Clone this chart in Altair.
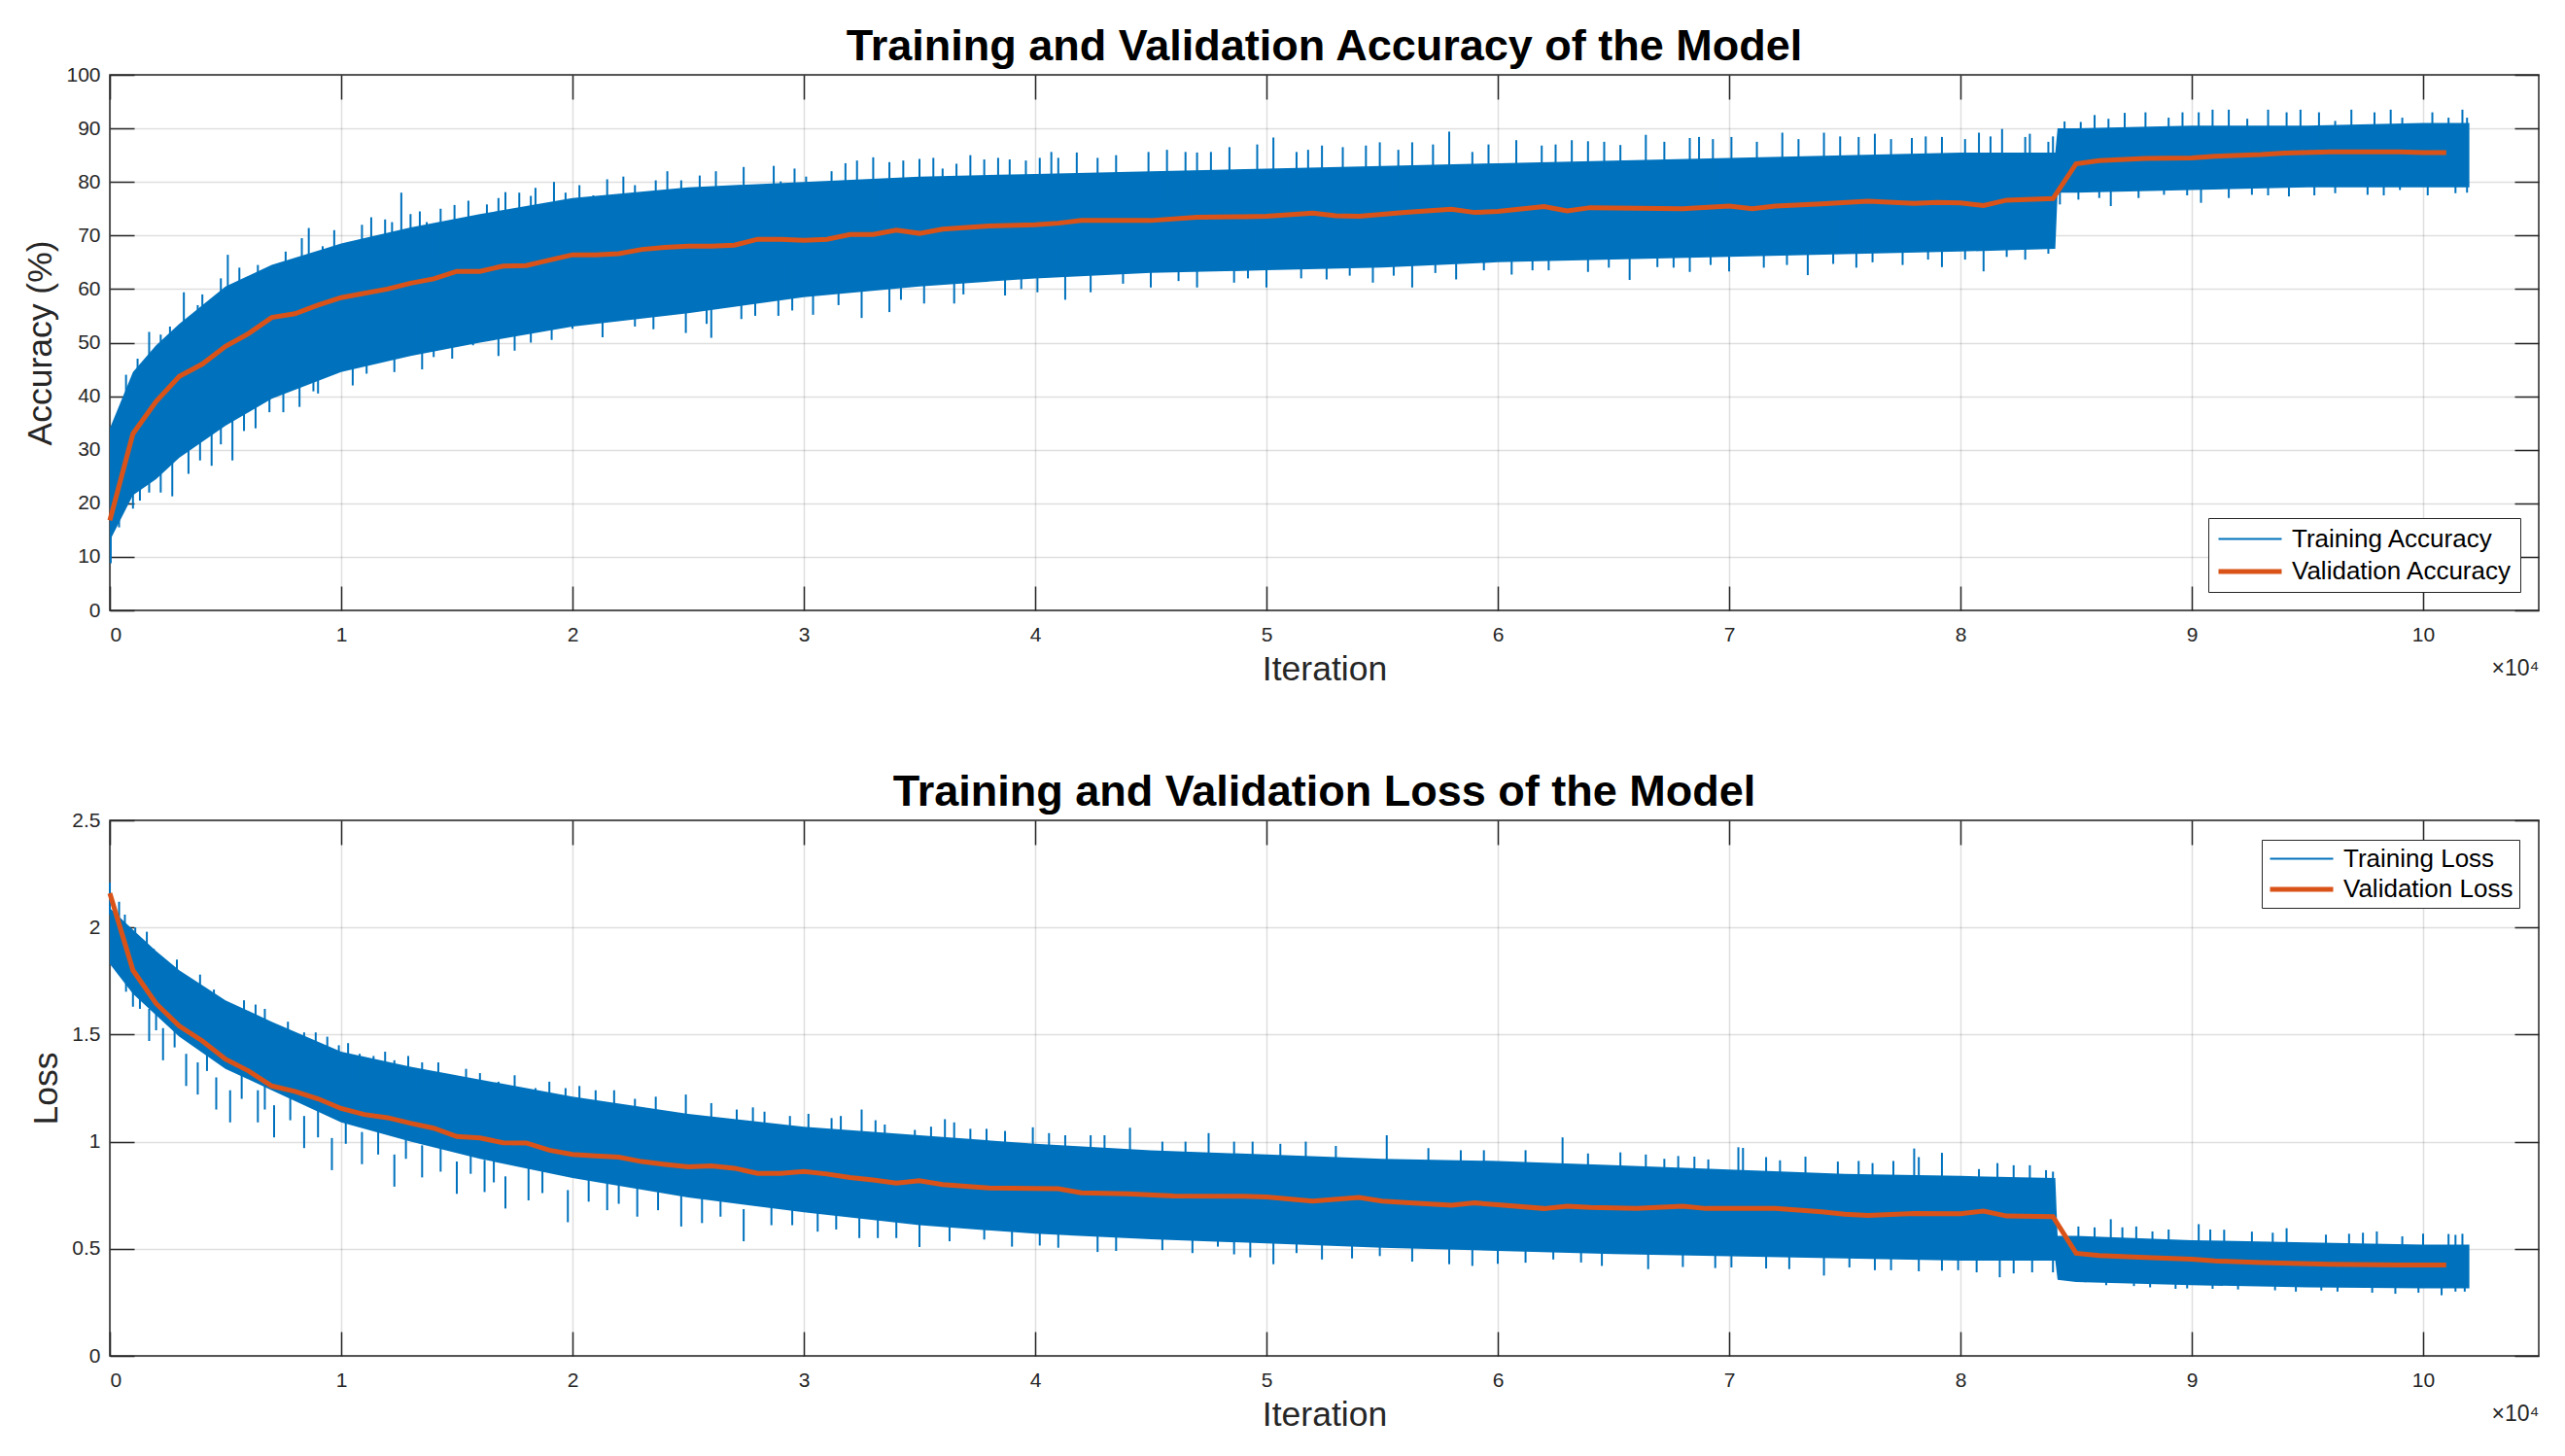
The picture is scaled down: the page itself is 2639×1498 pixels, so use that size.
import altair as alt
import pandas as pd

BLUE = "#0072BD"
ORANGE = "#D95319"
AX = "#262626"
FONT = "Liberation Sans"
W, H = 2499, 551

# ---------------- data ----------------
core_iter = [0, 1000, 2000, 3000, 5000, 7000, 10000, 13000, 16000, 20000, 25000, 30000,
             35000, 40000, 45000, 50000, 55000, 60000, 65000, 70000, 75000, 80000, 84100,
             84200, 85000, 90000, 95000, 100000, 102000]

acc_core_lo = [13, 21.5, 24.5, 28.5, 34.5, 39.5, 44.5, 47.5, 50, 53, 55.5, 58.5, 60.5, 62, 63,
               63.5, 64, 65, 65.5, 66, 66.5, 67, 67.5, 78, 78, 78.5, 79, 79, 79]
acc_core_hi = [34, 44.5, 49.5, 53.5, 60.5, 64.5, 68.5, 71.5, 74, 77, 79, 80, 81, 81.5, 82, 82.5,
               83, 83.5, 84, 84.5, 85, 85.5, 85.5, 90, 90, 90.5, 90.5, 91, 91]

loss_core_lo = [1.83, 1.69, 1.59, 1.49, 1.34, 1.24, 1.09, 1.0, 0.92, 0.83, 0.74, 0.67, 0.61,
                0.57, 0.545, 0.525, 0.505, 0.49, 0.475, 0.465, 0.455, 0.445, 0.445, 0.355,
                0.345, 0.33, 0.32, 0.315, 0.315]
loss_core_hi = [2.09, 1.99, 1.89, 1.80, 1.66, 1.56, 1.42, 1.35, 1.29, 1.21, 1.13, 1.07, 1.03,
                0.99, 0.96, 0.94, 0.92, 0.91, 0.89, 0.87, 0.85, 0.84, 0.83, 0.56, 0.56, 0.54,
                0.53, 0.52, 0.52]

# tall spikes above / below the dense band
acc_up_iter = [700, 1700, 2200, 3200, 3800, 4400, 5100, 6000, 6400, 7100, 8300, 8600, 9200, 10400,
               11300, 12200, 12600, 13000, 13700, 14900, 16300, 17100, 18200, 18400, 19700, 20300,
               20900, 22700, 23600, 24700, 25500, 27000, 27400, 28200, 29000, 30100, 31200, 32300,
               33000, 33700, 35000, 36000, 36600, 37800, 38900, 39600, 40700, 41000, 42700, 44900,
               46500, 47600, 49600, 50300, 51300, 52400, 54300, 54900, 56300, 57900, 58900, 60800,
               61900, 63200, 63900, 65300, 66400, 68300, 68700, 70100, 72300, 74100, 75600, 76300,
               77900, 79200, 80800, 81800, 82800, 83800, 84500, 85200, 86400, 87100, 89000, 90300,
               90900, 92400, 94100, 94700, 96200, 97900, 99100, 101100, 101700]
acc_up_tip = [44, 52, 51.5, 59.4, 57, 58, 66.4, 60, 64.5, 63, 69.5, 71.4, 68, 68.4, 73.4, 72.5, 78,
              74, 72.5, 75.7, 75.8, 78.1, 77.4, 78.9, 78, 79.4, 77.5, 79.4, 80.3, 80.3, 81.2, 79.2,
              82.8, 79.5, 80.1, 81, 82, 84, 84.6, 83.7, 84.3, 82.5, 83.4, 84.2, 84.2, 84, 85.6,
              84.5, 84.5, 85.6, 85.6, 85.6, 87, 88.3, 85.6, 86.8, 86.8, 87.4, 87.4, 89.4, 85.6,
              87.8, 86.8, 87.8, 87.6, 86.9, 88.8, 88.2, 88.4, 88.4, 89.2, 89.2, 88.4, 89, 88.2,
              88.4, 89.2, 89.9, 88.4, 87.5, 91.3, 91.2, 91.8, 92.9, 92, 93, 93.5, 91.8, 93, 93.5,
              91.4, 93, 92, 92, 93.5]
# shorter fringe spikes
acc_up2_iter = [1200, 2600, 4000, 4800, 5600, 7600, 9700, 10900, 11900, 13400, 14300, 15500,
                16800, 17700, 19200, 21500, 22200, 24100, 26200, 28700, 29600, 31800, 34300,
                35600, 37200, 38400, 40200, 41800, 43500, 45700, 47000, 48400, 51800, 53300,
                55700, 57200, 59600, 62500, 64600, 67200, 69300, 71200, 73000, 74800, 77000,
                78500, 80200, 81300, 83000, 84000, 85800, 88000, 89600, 91600, 93300, 95500,
                96900, 98600, 100400, 101900]
acc_up2_tip = [47, 53, 59, 62, 64, 67, 71, 72, 73, 74.5, 75, 76.5, 77, 78, 80, 80.5, 81, 82, 82,
               83, 82.5, 83.5, 84, 84.5, 85, 84.5, 84.5, 85.5, 85, 86, 85.5, 86.5, 86, 86.5, 86,
               87, 87, 87, 87.5, 87.5, 88, 87.5, 88, 88.5, 88, 88.5, 88, 88.5, 89, 88.5, 92.5,
               93, 93, 93.5, 93.5, 93, 93.5, 93.5, 93, 92]

acc_dn_iter = [40, 400, 700, 1300, 1700, 2700, 3900, 4400, 5300, 6300, 6900, 8200, 8800, 9900,
               11100, 11800, 13000, 14000, 15700, 18200, 20000, 22700, 24900, 26000, 27300, 28900,
               30400, 32500, 33700, 35200, 36500, 38700, 40100, 41300, 42400, 45000, 47000, 48600,
               50000, 52600, 54600, 56300, 58200, 60600, 62200, 63900, 65700, 66900, 68300, 70000,
               71500, 73400, 74500, 75500, 77500, 79200, 81000, 82000, 83800, 84300, 85100, 86500,
               88800, 90400, 92600, 94200, 96200, 97600, 99000, 101400]
acc_dn_tip = [8.8, 15.5, 21, 20.5, 22, 21.3, 28, 27, 28, 34, 37, 38, 40.9, 45, 44.2, 46.6, 48.4,
              47.3, 49.5, 50, 52.6, 53, 51.8, 50.9, 54.4, 55, 55.2, 54.6, 55.7, 57.3, 57.3, 58.8,
              59.4, 58, 59.4, 60.3, 60.3, 61.2, 60.3, 61.8, 61.2, 60.3, 61.8, 62.7, 63.5, 63.2,
              61.7, 64.1, 63.2, 63.3, 64, 62.6, 64.7, 64, 64.5, 64.1, 63.3, 66, 66.6, 75.8, 76.7,
              75.5, 77.6, 76.1, 77.6, 77.3, 77.9, 77.6, 78.5, 77.9]
acc_dn2_iter = [1000, 2200, 3400, 4800, 5800, 7500, 9000, 10500, 12300, 13500, 14800, 16800,
                17500, 19100, 21300, 23500, 25800, 27900, 29500, 31500, 34200, 36900, 39400,
                43800, 46200, 49200, 51500, 53600, 55500, 57300, 59400, 61500, 64800, 67600,
                69200, 72500, 76200, 78600, 80200, 82800, 86000, 87700, 89800, 91600, 93300,
                95300, 98300, 100200, 101900]
acc_dn2_tip = [19, 22, 25.5, 31, 33.5, 37, 40.5, 42, 44.5, 45, 47, 47.5, 48.5, 50.5, 51, 52.5,
               53.5, 55, 56, 57, 58, 59, 60, 61, 61.5, 62, 62, 62.5, 62.5, 63, 63.5, 63.5, 64,
               64, 64.5, 64.5, 65, 65.5, 65.5, 65.5, 77, 77, 77.5, 77, 77.5, 77.5, 77.5, 77.5, 78]

loss_up_iter = [0, 650, 1100, 1450, 1900, 2500, 3300, 4500, 5200, 6300, 7100, 8400, 9400, 9900,
                10800, 11400, 12300, 13500, 14900, 16000, 16800, 18400, 19700, 21000, 22700, 24900,
                27100, 28300, 29400, 30200, 31200, 32500, 33500, 34800, 36100, 36500, 37900, 39900,
                41300, 42400, 44100, 45500, 47500, 49400, 51700, 55200, 59400, 62800, 63900, 67200,
                67800, 69100, 70400, 70600, 71600, 72200, 74700, 76200, 78000, 78200, 79200, 80800,
                82300, 83700, 85100, 86500, 87600, 88300, 90300, 91400, 94100, 95800, 98000, 99100,
                101100, 101700]
loss_up_tip = [2.21, 2.06, 2.0, 1.94, 1.90, 1.78, 1.74, 1.71, 1.61, 1.64, 1.55, 1.51, 1.49, 1.45,
               1.41, 1.40, 1.38, 1.37, 1.31, 1.32, 1.28, 1.25, 1.25, 1.24, 1.20, 1.22, 1.15, 1.14,
               1.12, 1.13, 1.11, 1.15, 1.08, 1.055, 1.105, 1.09, 1.06, 1.067, 1.03, 1.03, 1.065,
               1.0, 1.04, 1.0, 1.0, 1.03, 0.96, 1.02, 0.945, 0.92, 0.933, 0.917, 0.974, 0.971,
               0.928, 0.913, 0.907, 0.90, 0.968, 0.928, 0.948, 0.872, 0.89, 0.867, 0.604, 0.638,
               0.604, 0.581, 0.615, 0.589, 0.596, 0.566, 0.581, 0.558, 0.569, 0.57]
loss_up2_iter = [400, 1600, 2900, 3900, 5800, 6700, 7700, 8900, 10300, 11900, 12900, 14200,
                 15400, 17500, 19000, 20300, 21800, 23600, 26000, 27800, 31600, 33100, 35500,
                 37200, 38700, 40600, 43000, 46500, 48600, 50600, 53000, 57000, 58400, 61200,
                 65300, 66400, 68500, 73300, 75600, 77100, 81600, 83000, 84000, 85800, 87000,
                 89000, 90800, 92600, 93500, 96800, 97400, 100000, 101400]
loss_up2_tip = [2.12, 1.98, 1.85, 1.78, 1.66, 1.62, 1.56, 1.51, 1.46, 1.42, 1.40, 1.37, 1.34,
                1.31, 1.28, 1.26, 1.24, 1.21, 1.18, 1.16, 1.12, 1.10, 1.07, 1.06, 1.05, 1.04,
                1.03, 1.00, 1.00, 0.99, 0.98, 0.97, 0.96, 0.96, 0.95, 0.94, 0.93, 0.93, 0.91,
                0.91, 0.90, 0.89, 0.86, 0.60, 0.60, 0.59, 0.59, 0.58, 0.575, 0.57, 0.575, 0.57,
                0.565]

loss_dn_iter = [400, 1000, 1700, 2300, 3300, 3800, 4600, 5200, 6400, 7100, 8400, 9600, 10900,
                12300, 13500, 15000, 16200, 17100, 18100, 19800, 21500, 22800, 24700, 25600, 27400,
                29500, 30600, 32400, 33200, 35000, 37800, 41000, 42700, 45500, 47900, 48600, 50300,
                51300, 54900, 57900, 58900, 62400, 63600, 66500, 70100, 71600, 74100, 75200, 77000,
                79200, 79900, 81700, 83100, 85400, 87500, 89300, 90900, 93600, 96300, 98800,
                100800, 101400]
loss_dn_tip = [1.80, 1.63, 1.47, 1.38, 1.26, 1.22, 1.15, 1.09, 1.09, 1.02, 0.97, 0.867, 0.895,
               0.79, 0.833, 0.757, 0.765, 0.688, 0.726, 0.624, 0.68, 0.65, 0.604, 0.62, 0.535,
               0.61, 0.58, 0.55, 0.55, 0.508, 0.543, 0.505, 0.485, 0.494, 0.51, 0.474, 0.428,
               0.48, 0.466, 0.428, 0.42, 0.45, 0.436, 0.405, 0.413, 0.408, 0.375, 0.413, 0.40,
               0.398, 0.40, 0.367, 0.39, 0.344, 0.326, 0.313, 0.313, 0.306, 0.30, 0.29, 0.283, 0.30]
loss_dn2_iter = [700, 1300, 2000, 2800, 4200, 5700, 6700, 7800, 9000, 10200, 11600, 12800,
                 14300, 15600, 16600, 18700, 20700, 22000, 23700, 26400, 28600, 31400, 34000,
                 36300, 39000, 40200, 43500, 46800, 49300, 52400, 53700, 56300, 60000, 61200,
                 64500, 68000, 69400, 72600, 76300, 78200, 80700, 82300, 84000, 86300, 88200,
                 89800, 92000, 94500, 95600, 97800, 99800, 101800]
loss_dn2_tip = [1.70, 1.62, 1.52, 1.44, 1.33, 1.20, 1.15, 1.10, 1.02, 0.99, 0.94, 0.92, 0.86,
                0.85, 0.81, 0.76, 0.72, 0.71, 0.68, 0.65, 0.61, 0.59, 0.55, 0.535, 0.51, 0.515,
                0.49, 0.48, 0.46, 0.45, 0.455, 0.44, 0.43, 0.435, 0.42, 0.415, 0.41, 0.405, 0.40,
                0.395, 0.39, 0.385, 0.39, 0.33, 0.32, 0.315, 0.31, 0.30, 0.305, 0.295, 0.295,
                0.30]

acc_val_iter = [0, 1000, 2000, 3000, 4000, 5000, 6000, 7000, 8000, 9000, 10000, 11000, 12000,
                13000, 14000, 15000, 16000, 17000, 18000, 19000, 20000, 21000, 22000, 23000,
                24000, 25000, 26000, 27000, 28000, 29000, 30000, 31000, 32000, 33000, 34000,
                35000, 36000, 38000, 40000, 41000, 42000, 45000, 47000, 49000, 50000, 52000,
                53000, 54000, 56000, 58000, 59000, 60000, 62000, 63000, 64000, 66000, 68000,
                70000, 71000, 72000, 74000, 76000, 78000, 79000, 80000, 81000, 82000, 84000,
                85000, 86000, 88000, 90000, 91000, 93000, 94000, 96000, 99000, 100000, 101000]
acc_val = [16.8, 33, 39, 43.7, 46, 49.3, 51.7, 54.7, 55.4, 57, 58.4, 59.2, 60, 61.1, 61.9, 63.3,
           63.3, 64.3, 64.4, 65.4, 66.4, 66.4, 66.6, 67.4, 67.8, 68, 68, 68.2, 69.3, 69.3, 69.1,
           69.3, 70.2, 70.2, 71.0, 70.4, 71.2, 71.8, 72, 72.3, 72.8, 72.8, 73.4, 73.5, 73.6,
           74.2, 73.7, 73.6, 74.3, 74.9, 74.3, 74.5, 75.4, 74.6, 75.2, 75.1, 75.0, 75.5, 75.0,
           75.5, 75.9, 76.4, 76.0, 76.2, 76.1, 75.6, 76.6, 76.9, 83.4, 84.0, 84.4, 84.5, 84.8,
           85.1, 85.4, 85.6, 85.6, 85.5, 85.5]

loss_val_iter = [0, 1000, 2000, 3000, 4000, 5000, 6000, 7000, 8000, 9000, 10000, 11000, 12000,
                 13000, 14000, 15000, 16000, 17000, 18000, 19000, 20000, 21000, 22000, 23000,
                 24000, 25000, 26000, 27000, 28000, 29000, 30000, 31000, 32000, 33000, 34000,
                 35000, 36000, 38000, 41000, 42000, 44000, 46000, 49000, 50000, 52000, 54000,
                 55000, 56000, 58000, 59000, 60000, 62000, 63000, 64000, 66000, 68000, 69000,
                 72000, 74000, 75000, 76000, 78000, 80000, 81000, 82000, 84000, 85000, 86000,
                 88000, 90000, 91000, 93000, 96000, 99000, 101000]
loss_val = [2.16, 1.80, 1.645, 1.54, 1.47, 1.385, 1.33, 1.26, 1.235, 1.20, 1.155, 1.127, 1.112,
            1.086, 1.063, 1.024, 1.017, 0.995, 0.994, 0.96, 0.94, 0.933, 0.928, 0.907, 0.894,
            0.882, 0.887, 0.876, 0.852, 0.852, 0.861, 0.849, 0.833, 0.821, 0.807, 0.818, 0.80,
            0.784, 0.78, 0.761, 0.757, 0.746, 0.745, 0.742, 0.723, 0.739, 0.723, 0.716, 0.703,
            0.714, 0.706, 0.688, 0.699, 0.693, 0.688, 0.699, 0.688, 0.688, 0.673, 0.661, 0.656,
            0.665, 0.664, 0.676, 0.653, 0.65, 0.479, 0.469, 0.459, 0.451, 0.443, 0.436, 0.428,
            0.424, 0.424]

x_ticks = [0, 10000, 20000, 30000, 40000, 50000, 60000, 70000, 80000, 90000, 100000]
acc_ticks = [0, 10, 20, 30, 40, 50, 60, 70, 80, 90, 100]
loss_ticks = [0, 0.5, 1, 1.5, 2, 2.5]


def panel(core_lo, core_hi, up_iter, up_tip, dn_iter, dn_tip, v_iter, v_val, ydom, yticks,
          ytitle, ptitle, names, legend_orient, depth, legend_pad, legend_offset, legend_row):
    core = pd.DataFrame({"iter": core_iter, "lo": core_lo, "hi": core_hi})
    up = pd.DataFrame({"iter": up_iter, "tip": up_tip})
    dn = pd.DataFrame({"iter": dn_iter, "tip": dn_tip})
    val = pd.DataFrame({"iter": v_iter, "val": v_val, "series": names[1]})

    xs = alt.Scale(domain=[0, 105000], nice=False, zero=False)
    ys = alt.Scale(domain=ydom, nice=False, zero=False)

    tick_common = dict(labels=False, grid=False, domain=False, ticks=True, tickSize=25,
                       tickColor=AX, tickWidth=1.5, title=None)

    axA = alt.Axis(orient="bottom", values=x_ticks,
                   labelExpr="'' + (datum.value / 10000)",
                   ticks=False, tickSize=0, domain=False, grid=True, gridColor=AX,
                   gridOpacity=0.15, gridWidth=1.5, labelFontSize=21, labelColor=AX,
                   labelFont=FONT, labelPadding=14, title="Iteration", titleFontSize=35.5,
                   titleFontWeight="normal", titleColor=AX, titleFont=FONT, titlePadding=8)
    axB = alt.Axis(orient="top", offset=-H, values=x_ticks, **tick_common)
    axC = alt.Axis(orient="bottom", offset=-H, values=x_ticks, **tick_common)
    axD = alt.Axis(orient="bottom", labels=False, ticks=False, domain=False, grid=False,
                   title="×10⁴", titleAnchor="end", titleAlign="right", titleFontSize=23,
                   titleFontWeight="normal", titleColor=AX, titleFont=FONT, titlePadding=48)
    axE = alt.Axis(orient="left", values=yticks, labelExpr="'' + datum.value", ticks=False,
                   tickSize=0, domain=False, grid=True, gridColor=AX, gridOpacity=0.15,
                   gridWidth=1.5, labelFontSize=21, labelColor=AX, labelFont=FONT,
                   labelPadding=10, title=ytitle, titleFontSize=35.5, titleFontWeight="normal",
                   titleColor=AX, titleFont=FONT, titlePadding=8)
    axF = alt.Axis(orient="right", offset=-W, values=yticks, **tick_common)
    axG = alt.Axis(orient="left", offset=-W, values=yticks, **tick_common)

    band = alt.Chart(core).mark_area(color=BLUE, opacity=1).encode(
        x=alt.X("iter:Q", scale=xs, axis=axA),
        y=alt.Y("lo:Q", scale=ys, axis=axE),
        y2="hi:Q",
    )
    spikes_up = alt.Chart(up).transform_calculate(
        base=f"datum.tip - {depth}"
    ).mark_rule(color=BLUE, strokeWidth=2).encode(
        x=alt.X("iter:Q", scale=xs, axis=axB),
        y=alt.Y("tip:Q", scale=ys, axis=axF),
        y2="base:Q",
    )
    spikes_dn = alt.Chart(dn).transform_calculate(
        base=f"datum.tip + {depth}"
    ).mark_rule(color=BLUE, strokeWidth=2).encode(
        x=alt.X("iter:Q", scale=xs, axis=axC),
        y=alt.Y("tip:Q", scale=ys, axis=axG),
        y2="base:Q",
    )
    leg = dict(orient=legend_orient, offset=legend_offset, title=None, fillColor="white",
               strokeColor=AX, padding=legend_pad, labelFontSize=26, labelFont=FONT,
               labelColor="#000", symbolType="M-1,0H4.2", symbolSize=625, labelOffset=48,
               rowPadding=legend_row, labelLimit=400)
    vline = alt.Chart(val).mark_line().encode(
        x=alt.X("iter:Q", scale=xs, axis=axD),
        y=alt.Y("val:Q", scale=ys, axis=None),
        color=alt.Color("series:N", scale=alt.Scale(domain=names, range=[BLUE, ORANGE]),
                        legend=alt.Legend(**leg)),
        strokeWidth=alt.StrokeWidth("series:N", scale=alt.Scale(domain=names, range=[2, 5]),
                                    legend=alt.Legend(**leg)),
    )
    return alt.layer(band, spikes_up, spikes_dn, vline).resolve_axis(
        x="independent", y="independent"
    ).properties(
        width=W, height=H,
        title=alt.TitleParams(ptitle, fontSize=45, fontWeight="bold", font=FONT, color="#000",
                              anchor="middle", frame="group", offset=-41, baseline="alphabetic"),
    )


top = panel(acc_core_lo, acc_core_hi, acc_up_iter + acc_up2_iter, acc_up_tip + acc_up2_tip,
            acc_dn_iter + acc_dn2_iter, acc_dn_tip + acc_dn2_tip,
            acc_val_iter, acc_val, [0, 100], acc_ticks, "Accuracy (%)",
            "Training and Validation Accuracy of the Model",
            ["Training Accuracy", "Validation Accuracy"], "bottom-right", 10, 8, 19, 5)
bottom = panel(loss_core_lo, loss_core_hi, loss_up_iter + loss_up2_iter,
               loss_up_tip + loss_up2_tip, loss_dn_iter + loss_dn2_iter,
               loss_dn_tip + loss_dn2_tip,
               loss_val_iter, loss_val, [0, 2.5], loss_ticks, "Loss",
               "Training and Validation Loss of the Model",
               ["Training Loss", "Validation Loss"], "top-right", 0.15, 6, 20, 3)

chart = alt.vconcat(top, bottom, spacing=216, bounds="flush").resolve_scale(
    color="independent", strokeWidth="independent"
).resolve_legend(
    color="independent", strokeWidth="independent"
).configure_view(
    stroke=AX, strokeWidth=1.5
).properties(
    padding={"left": 16, "top": 17, "right": 10, "bottom": 10},
    background="white",
)

chart.save("out.html", embed_options={"renderer": "svg", "actions": False})
